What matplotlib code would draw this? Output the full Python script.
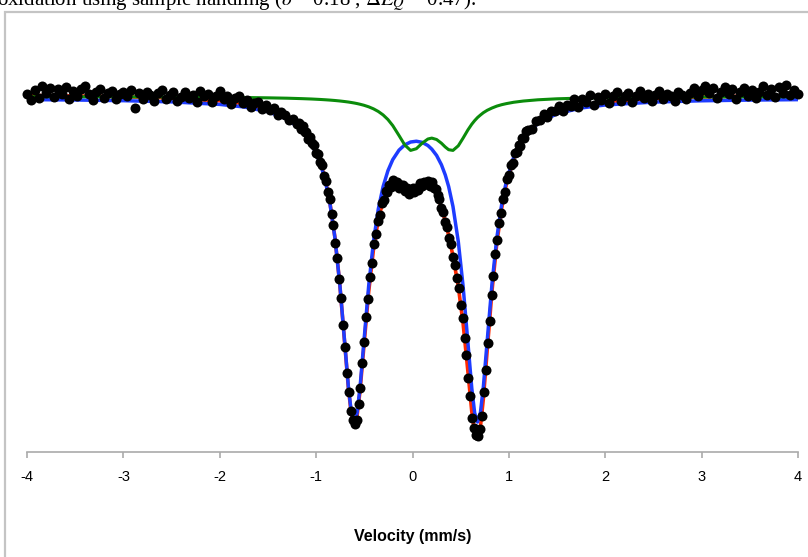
import numpy as np
import matplotlib
matplotlib.use('Agg')
import matplotlib.pyplot as plt
from matplotlib.patches import Rectangle

plt.rcParams['font.family'] = ['Liberation Sans', 'DejaVu Sans']
plt.rcParams['mathtext.fontset'] = 'stix'
plt.rcParams['axes.unicode_minus'] = False

# ---- fitted curves (relative transmission, %) ----
v_fit = [-4.0, -3.5, -3.0, -2.5, -2.0, -1.75, -1.5, -1.3, -1.15, -1.05,
         -0.955, -0.905, -0.855, -0.805, -0.755, -0.705, -0.665, -0.635, -0.605, -0.575,
         -0.545, -0.505, -0.455, -0.405, -0.355, -0.305, -0.255, -0.205, -0.14, -0.08,
         -0.02, 0.04, 0.10, 0.16, 0.20, 0.25, 0.30, 0.34, 0.375, 0.42,
         0.475, 0.525, 0.575, 0.615, 0.645, 0.675, 0.705, 0.735, 0.775, 0.825,
         0.875, 0.925, 0.975, 1.05, 1.15, 1.3, 1.5, 1.75, 2.0, 2.5,
         3.0, 3.5, 4.0]

red_fit = [99.957, 99.942, 99.919, 99.879, 99.795, 99.712, 99.561, 99.326, 98.988, 98.590,
           97.949, 97.430, 96.706, 95.698, 94.310, 92.572, 91.171, 90.397, 90.094, 90.349,
           91.075, 92.410, 94.054, 95.338, 96.226, 96.802, 97.138, 97.288, 97.276, 97.150,
           97.072, 97.147, 97.279, 97.309, 97.228, 96.997, 96.607, 96.187, 95.758, 95.137,
           94.228, 93.115, 91.669, 90.475, 89.839, 89.659, 90.022, 90.850, 92.308, 94.099,
           95.530, 96.568, 97.315, 98.066, 98.667, 99.151, 99.469, 99.663, 99.765, 99.866,
           99.912, 99.938, 99.954]

blue_fit = [99.833, 99.820, 99.800, 99.764, 99.688, 99.612, 99.471, 99.247, 98.922, 98.535,
            97.908, 97.398, 96.684, 95.688, 94.314, 92.592, 91.206, 90.447, 90.159, 90.432,
            91.176, 92.541, 94.233, 95.577, 96.546, 97.224, 97.698, 98.031, 98.316, 98.475,
            98.559, 98.583, 98.550, 98.454, 98.346, 98.157, 97.878, 97.572, 97.224, 96.624,
            95.577, 94.233, 92.541, 91.176, 90.432, 90.159, 90.447, 91.206, 92.592, 94.314,
            95.688, 96.684, 97.398, 98.109, 98.673, 99.120, 99.408, 99.581, 99.671, 99.757,
            99.797, 99.818, 99.831]

green_fit = [99.919, 99.917, 99.914, 99.910, 99.902, 99.895, 99.885, 99.874, 99.861, 99.850,
             99.836, 99.827, 99.817, 99.805, 99.791, 99.774, 99.759, 99.745, 99.730, 99.713,
             99.693, 99.663, 99.616, 99.555, 99.476, 99.372, 99.234, 99.053, 98.755, 98.470,
             98.308, 98.359, 98.524, 98.650, 98.677, 98.635, 98.524, 98.410, 98.329, 98.308,
             98.446, 98.677, 98.923, 99.094, 99.202, 99.295, 99.370, 99.439, 99.511, 99.580,
             99.637, 99.679, 99.712, 99.752, 99.789, 99.826, 99.856, 99.877, 99.890, 99.904,
             99.911, 99.915, 99.918]

# ---- measured spectrum, three velocity ranges ----
v_left = np.linspace(-4.0, -1.2, 71)
t_left = [99.99, 99.82, 100.12, 99.89, 100.23, 100.02, 100.19, 99.92, 100.15, 99.99,
          100.20, 99.86, 100.08, 99.95, 100.16, 100.25, 99.99, 99.82, 100.06, 100.14,
          99.89, 100.02, 100.10, 99.85, 100.00, 100.07, 99.95, 100.11, 99.58, 100.02,
          99.85, 100.07, 99.97, 99.79, 100.03, 100.11, 99.85, 99.98, 100.06, 99.79,
          99.92, 100.07, 99.88, 99.98, 99.77, 100.08, 99.93, 99.99, 99.77, 99.94,
          100.08, 99.85, 99.95, 99.70, 99.87, 99.95, 99.73, 99.82, 99.62, 99.73,
          99.77, 99.56, 99.66, 99.51, 99.57, 99.38, 99.47, 99.38, 99.22, 99.26,
          99.10]

v_mid = np.linspace(-1.18, 1.18, 119)
t_mid = [99.12, 98.96, 99.04, 98.86, 98.86, 98.66, 98.70, 98.52, 98.48, 98.24,
         98.19, 97.96, 97.88, 97.55, 97.39, 97.07, 96.85, 96.40, 96.06, 95.53,
         95.09, 94.45, 93.87, 93.08, 92.42, 91.62, 91.06, 90.48, 90.23, 90.10,
         90.23, 90.69, 91.18, 91.93, 92.55, 93.32, 93.86, 94.51, 94.93, 95.49,
         95.80, 96.19, 96.38, 96.73, 96.82, 97.09, 97.07, 97.28, 97.20, 97.41,
         97.28, 97.36, 97.19, 97.28, 97.28, 97.10, 97.18, 97.00, 97.12, 97.18,
         97.05, 97.19, 97.13, 97.32, 97.24, 97.37, 97.30, 97.40, 97.23, 97.35,
         97.17, 97.14, 96.98, 96.86, 96.58, 96.47, 96.15, 96.00, 95.68, 95.49,
         95.10, 94.88, 94.47, 94.18, 93.67, 93.27, 92.67, 92.18, 91.48, 90.94,
         90.29, 89.97, 89.78, 89.75, 89.95, 90.35, 91.07, 91.71, 92.53, 93.19,
         93.96, 94.53, 95.20, 95.62, 96.14, 96.42, 96.86, 97.07, 97.45, 97.58,
         97.87, 97.94, 98.22, 98.26, 98.46, 98.45, 98.68, 98.68, 98.88]

v_right = np.linspace(1.2, 4.0, 71)
t_right = [98.93, 98.96, 99.20, 99.22, 99.39, 99.31, 99.50, 99.49, 99.64, 99.48,
           99.67, 99.63, 99.86, 99.62, 99.85, 99.77, 99.97, 99.67, 99.91, 99.82,
           99.99, 99.74, 99.93, 100.05, 99.79, 99.94, 100.02, 99.75, 99.94, 100.08,
           99.88, 100.01, 99.80, 99.98, 100.08, 99.85, 100.01, 99.94, 99.79, 100.06,
           99.97, 99.86, 100.04, 100.18, 99.94, 100.11, 100.25, 100.02, 100.17, 99.89,
           100.07, 100.21, 100.00, 100.15, 99.86, 100.06, 100.17, 99.95, 100.11, 99.88,
           100.05, 100.23, 99.98, 100.14, 99.92, 100.20, 100.03, 100.26, 99.96, 100.13,
           100.01]

v_data = np.concatenate([v_left, v_mid, v_right])
t_data = np.concatenate([t_left, t_mid, t_right])

W, H = 808, 557
fig = plt.figure(figsize=(W / 100, H / 100), dpi=100)

# grey frame of the original page (cut off on the right and bottom)
fig.add_artist(Rectangle((5 / W, -0.1), 1.2, 1 - 12 / H + 0.1, transform=fig.transFigure,
                         fill=False, edgecolor='#c4c4c4', linewidth=1.6))

# caption above, mostly cut off by the top edge
fig.text(-0.004, 1 - 5 / H, r'oxidation using sample handling ($\delta$ = 0.18 , $\Delta E_Q$ = 0.47).',
         ha='left', va='baseline', fontsize=15, family='Liberation Serif')

ax = fig.add_axes([27 / W, 1 - 452 / H, 771 / W, 412 / H])
ax.plot(v_fit, red_fit, color='#ff2a00', lw=2.6, zorder=2)
ax.plot(v_fit, blue_fit, color='#1e3cff', lw=2.5, zorder=3)
ax.plot(v_fit, green_fit, color='#0b8c0b', lw=2.2, zorder=4)
ax.plot(v_data, t_data, 'o', color='black', ms=7.2, mew=0, zorder=5, clip_on=False)

ax.set_xlim(-4, 4)
ax.set_ylim(89.26, 101.62)
for s in ['left', 'right', 'top']:
    ax.spines[s].set_visible(False)
ax.spines['bottom'].set_color('#aaaaaa')
ax.spines['bottom'].set_linewidth(1.2)
ax.set_yticks([])
ax.set_xticks(range(-4, 5))
ax.tick_params(axis='x', direction='out', length=4, width=1.2, color='#aaaaaa',
               labelsize=10.5, pad=9)
ax.set_xlabel('Velocity (mm/s)', fontsize=11.5, fontweight='bold')
ax.xaxis.set_label_coords(0.5, -(537 - 452) / 412)
ax.xaxis.label.set_verticalalignment('center')

fig.savefig('out.png', dpi=100)
